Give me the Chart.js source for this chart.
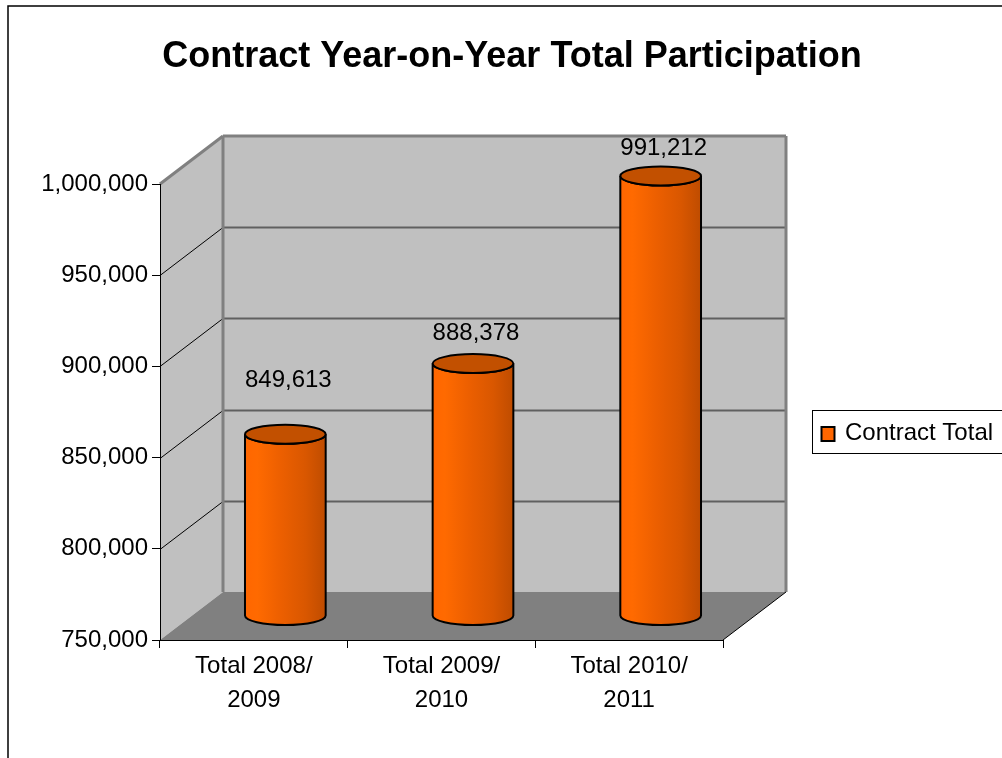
<!DOCTYPE html>
<html>
<head>
<meta charset="utf-8">
<title>Contract Year-on-Year Total Participation</title>
<script src="https://cdn.jsdelivr.net/npm/chart.js@4.4.1/dist/chart.umd.min.js"></script>
<style>
  html, body { margin: 0; padding: 0; background: #fff; }
  #wrap { width: 1002px; height: 758px; }
</style>
</head>
<body>
<div id="wrap"><canvas id="chart" width="1002" height="758"></canvas></div>
<script>
const categories = [["Total 2008/", "2009"], ["Total 2009/", "2010"], ["Total 2010/", "2011"]];
const contractTotals = [849613, 888378, 991212];
const seriesName = "Contract Total";
const yMin = 750000;
const yMax = 1000000;
const yStep = 50000;

// depth of the 3d box (back wall offset from the front plane)
const DX = 63;
const DY = 48;
// how far each value label sits above its cylinder top
const labelLift = [54, 30, 28];

const FONT = "'Liberation Sans', Arial, sans-serif";
Chart.defaults.font.family = FONT;
Chart.defaults.color = "#000";

function fmt(v) {
  return v.toLocaleString("en-US");
}

function line(ctx, x1, y1, x2, y2) {
  ctx.beginPath();
  ctx.moveTo(x1, y1);
  ctx.lineTo(x2, y2);
  ctx.stroke();
}

/*-----walls, floor and gridlines---------------------------*/
const box3d = {
  id: "box3d",
  beforeDraw(chart) {
    const ctx = chart.ctx;
    const a = chart.chartArea;
    const y = chart.scales.y;
    const L = a.left, R = a.right, T = a.top, B = a.bottom;
    ctx.save();

    // outer frame
    ctx.strokeStyle = "#000";
    ctx.lineWidth = 1.5;
    ctx.strokeRect(8, 6, 1200, 1200);

    // side wall
    ctx.fillStyle = "#c0c0c0";
    ctx.beginPath();
    ctx.moveTo(L, T);
    ctx.lineTo(L + DX, T - DY);
    ctx.lineTo(L + DX, B - DY);
    ctx.lineTo(L, B);
    ctx.closePath();
    ctx.fill();
    // back wall
    ctx.fillRect(L + DX, T - DY, R - L, B - T);
    // floor
    ctx.fillStyle = "#808080";
    ctx.beginPath();
    ctx.moveTo(L, B);
    ctx.lineTo(R, B);
    ctx.lineTo(R + DX, B - DY);
    ctx.lineTo(L + DX, B - DY);
    ctx.closePath();
    ctx.fill();

    // gridlines
    y.ticks.forEach((t) => {
      if (t.value <= yMin || t.value >= yMax) return;
      const py = Math.round(y.getPixelForValue(t.value)) + 0.5;
      ctx.strokeStyle = "#606060";
      ctx.lineWidth = 2;
      line(ctx, L + DX, py - DY, R + DX, py - DY);
      ctx.strokeStyle = "#000";
      ctx.lineWidth = 1;
      line(ctx, L, py, L + DX, py - DY);
    });

    // wall edges
    ctx.strokeStyle = "#808080";
    ctx.lineWidth = 3;
    line(ctx, L, T, L + DX, T - DY);
    line(ctx, L + DX, T - DY, R + DX, T - DY);
    line(ctx, R + DX, T - DY, R + DX, B - DY);
    line(ctx, L + DX, T - DY, L + DX, B - DY);
    ctx.strokeStyle = "#000";
    ctx.lineWidth = 1;
    line(ctx, R, B, R + DX, B - DY);
    ctx.restore();
  },
};

/*-----cylinders and value labels----------------------------*/
function drawCylinder(ctx, cx, top, base, rx, ry) {
  const grad = ctx.createLinearGradient(cx - rx, 0, cx + rx, 0);
  grad.addColorStop(0, "#ff6600");
  grad.addColorStop(0.15, "#ff6a00");
  grad.addColorStop(0.45, "#ec5f00");
  grad.addColorStop(0.75, "#d95700");
  grad.addColorStop(1, "#bf4c00");

  ctx.beginPath();
  ctx.moveTo(cx - rx, top);
  ctx.lineTo(cx - rx, base);
  ctx.ellipse(cx, base, rx, ry, 0, Math.PI, 0, true);
  ctx.lineTo(cx + rx, top);
  ctx.ellipse(cx, top, rx, ry, 0, 0, Math.PI, false);
  ctx.closePath();
  ctx.fillStyle = grad;
  ctx.fill();
  ctx.strokeStyle = "#000";
  ctx.lineWidth = 2;
  ctx.stroke();

  ctx.beginPath();
  ctx.ellipse(cx, top, rx, ry, 0, 0, Math.PI * 2);
  ctx.fillStyle = "#c25000";
  ctx.fill();
  ctx.stroke();
}

const cylinders = {
  id: "cylinders",
  afterDatasetsDraw(chart) {
    const ctx = chart.ctx;
    const meta = chart.getDatasetMeta(0);
    ctx.save();
    meta.data.forEach((bar, i) => {
      const cx = bar.x + DX / 2;
      const top = bar.y - DY / 2;
      const base = bar.base - DY / 2;
      drawCylinder(ctx, cx, top, base, bar.width / 2, 9.5);

      ctx.fillStyle = "#000";
      ctx.font = "24px " + FONT;
      ctx.textAlign = "center";
      ctx.textBaseline = "middle";
      ctx.fillText(fmt(chart.data.datasets[0].data[i]), cx + 3, top - labelLift[i]);
    });
    ctx.restore();
  },
  afterDraw(chart) {
    // legend box, cut by the right edge
    const ctx = chart.ctx;
    const ds = chart.data.datasets[0];
    ctx.save();
    ctx.strokeStyle = "#000";
    ctx.lineWidth = 1;
    ctx.strokeRect(812.5, 410.5, 300, 43);
    ctx.fillStyle = "#ff6600";
    ctx.fillRect(821.5, 427, 13, 14);
    ctx.lineWidth = 2;
    ctx.strokeRect(821.5, 427, 13, 14);
    ctx.fillStyle = "#000";
    ctx.font = "24px " + FONT;
    ctx.textAlign = "left";
    ctx.textBaseline = "middle";
    ctx.fillText(ds.label, 845, 433);
    ctx.restore();
  },
};

new Chart(document.getElementById("chart"), {
  type: "bar",
  data: {
    labels: categories,
    datasets: [
      {
        label: seriesName,
        data: contractTotals,
        base: yMin,
        backgroundColor: "rgba(0,0,0,0)",
        borderWidth: 0,
        categoryPercentage: 1,
        barPercentage: 0.43,
      },
    ],
  },
  options: {
    responsive: false,
    animation: false,
    events: [],
    layout: { padding: { left: 22, right: 0, top: 0, bottom: 0 } },
    plugins: {
      legend: { display: false },
      tooltip: { enabled: false },
      title: {
        display: true,
        text: "Contract Year-on-Year Total Participation",
        color: "#000",
        font: { size: 36, weight: "bold" },
        padding: { top: 35.4, bottom: 105.4 },
      },
    },
    scales: {
      x: {
        grid: { drawOnChartArea: false, tickLength: 8, color: "#000" },
        border: { color: "#000", width: 1 },
        ticks: { font: { size: 24, lineHeight: 1.4 }, padding: 2, maxRotation: 0 },
        afterFit(s) {
          s.height = 118;
        },
      },
      y: {
        min: yMin,
        max: yMax,
        ticks: { stepSize: yStep, font: { size: 24 }, padding: 4, callback: (v) => fmt(v) },
        grid: { drawOnChartArea: false, tickLength: 8, color: "#000" },
        border: { color: "#000", width: 1 },
        afterFit(s) {
          s.width = 138;
        },
      },
      pad: {
        type: "linear",
        position: "right",
        grid: { display: false },
        border: { display: false },
        ticks: { display: false },
        afterFit(s) {
          s.width = 279;
        },
      },
    },
  },
  plugins: [box3d, cylinders],
});
</script>
</body>
</html>
